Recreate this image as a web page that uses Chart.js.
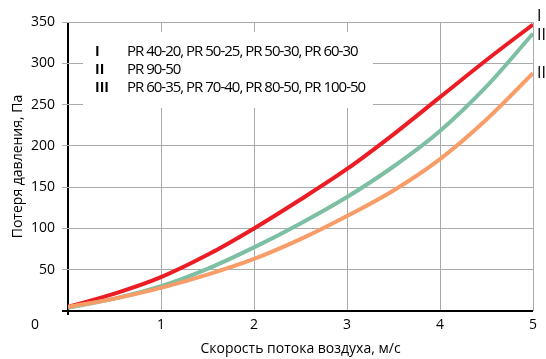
<!DOCTYPE html>
<html>
<head>
<meta charset="utf-8">
<script src="https://cdn.jsdelivr.net/npm/chart.js@4/dist/chart.umd.min.js"></script>
<style>
  html, body { margin: 0; padding: 0; background: #fff; }
  #wrap { width: 546px; height: 359px; }
</style>
</head>
<body>
<div id="wrap"><canvas id="chart"></canvas></div>
<script>
// air speed, m/s
const speeds = [0, 0.5, 1, 1.5, 2, 2.5, 3, 3.5, 4, 4.5, 5];
// pressure loss, Pa
const lossI = [5, 21, 41, 68, 100, 135, 172, 214, 259, 304, 347];
const lossII = [4, 15, 30, 51, 77, 106, 138, 175, 218, 272, 336];
const lossIII = [5, 15, 28, 44, 63, 87, 115, 146, 184, 232, 288];

const seriesNames = ['I', 'II', 'III'];
const seriesModels = [
    'PR 40-20, PR 50-25, PR 50-30, PR 60-30',
    'PR 90-50',
    'PR 60-35, PR 70-40, PR 80-50, PR 100-50'
];
const xTitle = 'Скорость потока воздуха, м/с';
const yTitle = 'Потеря давления, Па';

const colors = ['#ec1c24', '#7cbfa2', '#f89c68'];
const FONT = '"Open Sans", "Noto Sans", sans-serif';

function points(ys) {
    return speeds.map((x, i) => ({ x: x, y: ys[i] }));
}

const extras = {
    id: 'extras',
    beforeDatasetsDraw(chart) {
        const ctx = chart.ctx;
        const area = chart.chartArea;
        // white box behind the model list
        const bx = area.left + 15, by = area.top + 10;
        ctx.save();
        ctx.fillStyle = '#fff';
        ctx.fillRect(bx, by, 290, 76);
        ctx.fillStyle = '#000';
        ctx.textBaseline = 'middle';
        seriesNames.forEach((name, i) => {
            const y = by + 20 + i * 18;
            ctx.font = 'bold 14px ' + FONT;
            ctx.fillText(name, bx + 12, y);
            ctx.font = '15px ' + FONT;
            ctx.letterSpacing = '-1px';
            ctx.fillText(seriesModels[i], bx + 44, y);
            ctx.letterSpacing = '0px';
        });
        ctx.restore();
    },
    afterDraw(chart) {
        const ctx = chart.ctx;
        const area = chart.chartArea;
        const yScale = chart.scales.y;
        ctx.save();
        ctx.fillStyle = '#000';
        ctx.font = '16px ' + FONT;
        ctx.textBaseline = 'middle';
        const shifts = [-8, 2, 0];
        [lossI, lossII, lossIII].forEach((ys, i) => {
            const y = yScale.getPixelForValue(ys[ys.length - 1]) + shifts[i];
            ctx.fillText(seriesNames[i], area.right + 4, y);
        });
        // zero label in the corner
        ctx.font = '14px ' + FONT;
        ctx.textAlign = 'center';
        ctx.fillText('0', area.left - 33, area.bottom + 14);
        ctx.restore();
    }
};

new Chart(document.getElementById('chart'), {
    type: 'scatter',
    data: {
        datasets: [lossI, lossII, lossIII].map((ys, i) => ({
            label: seriesNames[i],
            data: points(ys),
            showLine: true,
            borderColor: colors[i],
            backgroundColor: colors[i],
            borderWidth: 4,
            pointRadius: 0,
            cubicInterpolationMode: 'monotone',
            order: 3 - i
        }))
    },
    options: {
        responsive: true,
        maintainAspectRatio: false,
        animation: false,
        layout: { padding: { top: 22, right: 13, left: 0, bottom: 0 } },
        plugins: {
            legend: { display: false },
            tooltip: { enabled: false }
        },
        scales: {
            x: {
                type: 'linear',
                min: 0,
                max: 5,
                afterFit(scale) { scale.height = 48; },
                border: { display: false },
                grid: {
                    color: c => c.tick && c.tick.value === 0 ? '#000' : '#aaa',
                    lineWidth: c => c.tick && c.tick.value === 0 ? 2 : 1,
                    tickColor: c => c.tick && c.tick.value === 0 ? '#000' : 'rgba(0,0,0,0)',
                    tickLength: 4
                },
                ticks: {
                    stepSize: 1,
                    padding: 2,
                    color: '#000',
                    font: { family: FONT, size: 14 },
                    callback: v => v === 0 ? '' : v
                },
                title: {
                    display: true,
                    text: xTitle,
                    color: '#000',
                    font: { family: FONT, size: 14 },
                    padding: { top: 6, bottom: 2 }
                }
            },
            y: {
                min: 0,
                max: 350,
                afterFit(scale) { scale.width = 68; },
                border: { display: false },
                grid: {
                    color: c => c.tick && c.tick.value === 0 ? '#000' : '#aaa',
                    lineWidth: c => c.tick && c.tick.value === 0 ? 2 : 1,
                    tickLength: 6
                },
                ticks: {
                    stepSize: 50,
                    padding: 7,
                    color: '#000',
                    font: { family: FONT, size: 14 },
                    callback: v => v === 0 ? '' : v
                },
                title: {
                    display: true,
                    text: yTitle,
                    color: '#000',
                    font: { family: FONT, size: 14 },
                    padding: { top: 10, bottom: 0 }
                }
            }
        }
    },
    plugins: [extras]
});
</script>
</body>
</html>
